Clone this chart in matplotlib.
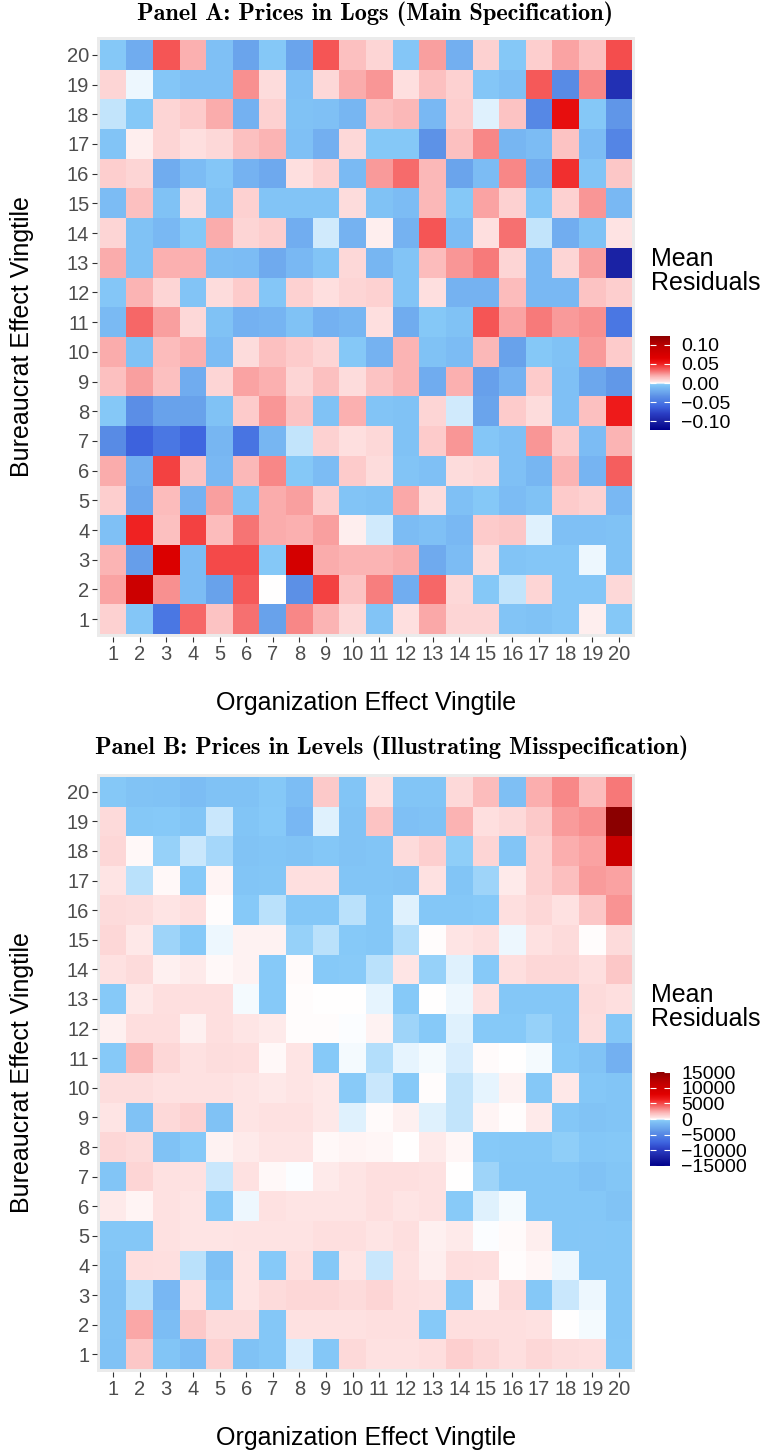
import os
import numpy as np
import matplotlib
matplotlib.use('Agg')
import matplotlib.pyplot as plt
from matplotlib.colors import LinearSegmentedColormap, Normalize
from matplotlib.font_manager import FontProperties
from matplotlib.ticker import FuncFormatter

plt.rcParams['font.family'] = ['Liberation Sans', 'DejaVu Sans']

vingtiles = list(range(1, 21))

# Panel A: mean residuals, prices in logs. Rows from vingtile 20 (top) to 1.
logs_rows = [
    [-0.005, -0.020, 0.038, 0.018, -0.009, -0.025, -0.005, -0.025, 0.038, 0.014, 0.008, -0.006, 0.022, -0.018, 0.009, -0.005, 0.010, 0.021, 0.014, 0.040],
    [0.008, -0.0005, -0.006, -0.009, -0.009, 0.025, 0.006, -0.009, 0.007, 0.019, 0.024, 0.005, 0.014, 0.009, -0.006, -0.009, 0.037, -0.038, 0.027, -0.090],
    [-0.002, -0.005, 0.008, 0.011, 0.019, -0.017, 0.009, -0.008, -0.009, -0.014, 0.014, 0.016, -0.013, 0.010, -0.001, 0.013, -0.040, 0.058, -0.005, -0.032],
    [-0.007, 0.002, 0.008, 0.005, 0.007, 0.014, 0.017, -0.009, -0.018, 0.007, -0.005, -0.005, -0.034, 0.014, 0.027, -0.014, -0.011, 0.013, -0.011, -0.042],
    [0.010, 0.008, -0.020, -0.011, -0.006, -0.016, -0.022, 0.005, 0.009, -0.012, 0.023, 0.033, 0.016, -0.025, -0.011, 0.027, -0.020, 0.047, -0.007, 0.012],
    [-0.011, 0.014, -0.008, 0.006, -0.008, 0.009, -0.007, -0.007, -0.007, 0.006, -0.008, -0.011, 0.016, -0.005, 0.021, 0.009, -0.006, 0.009, 0.024, -0.013],
    [0.008, -0.008, -0.013, -0.005, 0.019, 0.008, 0.010, -0.019, -0.0015, -0.016, 0.002, -0.016, 0.038, -0.011, 0.005, 0.032, -0.002, -0.019, -0.008, 0.004],
    [0.019, -0.008, 0.018, 0.018, -0.010, -0.011, -0.021, -0.013, -0.007, 0.007, -0.014, -0.007, 0.015, 0.024, 0.030, 0.008, -0.013, 0.008, 0.022, -0.100],
    [-0.006, 0.017, 0.008, -0.007, 0.006, 0.011, -0.006, 0.009, 0.005, 0.008, 0.009, -0.007, 0.005, -0.016, -0.016, 0.015, -0.013, -0.013, 0.013, 0.010],
    [-0.012, 0.034, 0.022, 0.007, -0.008, -0.017, -0.015, -0.008, -0.017, -0.014, 0.005, -0.020, -0.005, -0.008, 0.038, 0.021, 0.030, 0.023, 0.025, -0.050],
    [0.019, -0.008, 0.015, 0.018, -0.011, 0.006, 0.014, 0.011, 0.008, -0.005, -0.016, 0.017, -0.008, -0.011, 0.016, -0.026, -0.005, -0.008, 0.023, 0.011],
    [0.014, 0.022, 0.014, -0.020, 0.008, 0.021, 0.018, 0.008, 0.014, 0.006, 0.013, 0.017, -0.020, 0.018, -0.027, -0.016, 0.011, -0.009, -0.023, -0.031],
    [-0.005, -0.036, -0.026, -0.026, -0.008, 0.011, 0.024, 0.013, -0.008, 0.018, -0.007, -0.008, 0.008, -0.0015, -0.025, 0.011, 0.006, -0.009, 0.014, 0.052],
    [-0.038, -0.062, -0.050, -0.060, -0.014, -0.052, -0.014, -0.002, 0.009, 0.005, 0.007, -0.008, 0.011, 0.024, -0.006, -0.009, 0.024, 0.011, -0.011, 0.017],
    [0.019, -0.018, 0.043, 0.013, -0.013, 0.016, 0.027, -0.005, -0.011, 0.011, 0.006, -0.007, -0.009, 0.006, 0.007, -0.009, -0.014, 0.017, -0.015, 0.036],
    [0.010, -0.022, 0.015, -0.016, 0.022, -0.008, 0.019, 0.022, 0.010, -0.007, -0.008, 0.020, 0.006, -0.009, -0.005, -0.011, -0.008, 0.011, 0.009, -0.013],
    [-0.009, 0.050, 0.014, 0.043, 0.015, 0.031, 0.019, 0.018, 0.022, 0.002, -0.0015, -0.011, -0.009, -0.013, 0.011, 0.012, -0.001, -0.009, -0.009, -0.008],
    [0.017, -0.028, 0.070, -0.011, 0.041, 0.041, -0.005, 0.077, 0.019, 0.017, 0.017, 0.019, -0.021, -0.011, 0.006, -0.007, -0.006, -0.006, -0.0007, -0.008],
    [0.021, 0.085, 0.025, -0.011, -0.026, 0.037, 0.000, -0.035, 0.043, 0.013, 0.029, -0.019, 0.034, 0.007, -0.005, -0.002, 0.008, -0.006, -0.006, 0.007],
    [0.009, -0.006, -0.050, 0.034, 0.013, 0.032, -0.026, 0.027, 0.017, 0.007, -0.007, 0.005, 0.020, 0.008, 0.008, -0.007, -0.008, -0.006, 0.002, -0.005],
]

# Panel B: mean residuals, prices in levels. Rows from vingtile 20 (top) to 1.
levels_rows = [
    [-620, -900, -1000, -1300, -1000, -1000, -620, -1300, 1400, -800, 550, -800, -800, 850, 1850, -1150, 2250, 3300, 1850, 3700],
    [800, -600, -550, -800, -230, -800, -550, -1650, -145, -900, 1600, -1100, -950, 2100, 600, 850, 1400, 2800, 3100, 15100],
    [900, 100, -435, -210, -370, -900, -800, -900, -700, -900, -800, 750, 1200, -450, 1000, -800, 1150, 2250, 2600, 10600],
    [450, -270, 100, -550, 170, -800, -750, 600, 600, -800, -800, -900, 550, -800, -400, 300, 1100, 1750, 2800, 2600],
    [750, 700, 450, 600, 50, -550, -270, -700, -700, -270, -700, -145, -700, -700, -550, 600, 900, 550, 1450, 3000],
    [900, 350, -400, -550, -70, 200, 200, -430, -270, -550, -700, -320, 50, 450, 600, -80, 550, 750, 40, 750],
    [550, 750, 230, 300, 100, 200, -550, 80, -550, -500, -290, 400, -430, -145, -550, 600, 900, 900, 600, 1450],
    [-550, 350, 600, 600, 600, -40, -550, 40, 10, 10, -100, -550, 0, -70, 550, -700, -700, -700, 750, 600],
    [230, 650, 650, 230, 600, 400, 300, 40, 40, -20, 200, -400, -550, -130, -550, -550, -430, -650, 700, -700],
    [-550, 1900, 900, 550, 700, 650, 100, 450, -550, -30, -310, -90, -50, -170, 80, 0, -40, -550, -900, -2100],
    [700, 700, 550, 550, 550, 450, 350, 450, 350, -480, -230, -550, 40, -260, -110, 200, -600, 350, -700, -800],
    [450, -1000, 850, 1150, -1000, 450, 550, 550, 350, -145, 70, 230, -145, -240, 170, 40, 300, -700, -900, -800],
    [900, 750, -1000, -550, 200, 300, 450, 450, 100, 170, 130, 0, 300, 130, -550, -600, -600, -470, -700, -600],
    [-800, 1000, 550, 550, -230, 550, 100, -20, 300, 450, 600, 600, 550, 0, -400, -700, -700, -700, -1000, -750],
    [300, 170, 550, 450, -550, -80, 550, 450, 450, 450, 600, 450, 550, -500, -130, -30, -700, -700, -700, -900],
    [-700, -700, 550, 450, 450, 500, 500, 500, 600, 600, 450, 600, 230, 300, -20, 60, 260, -700, -650, -700],
    [-800, 650, 600, -290, -1050, 450, -550, 600, -600, 450, -210, 550, 260, 650, 600, 40, 130, -60, -700, -700],
    [-1000, -320, -1650, 600, -700, 450, 750, 900, 900, 750, 1000, 600, 550, -600, 200, 750, -600, -210, -80, -700],
    [-900, 2500, -1300, 1400, 750, 750, -700, 550, 550, 550, 600, 600, -550, 600, 600, 600, 550, 0, -30, -700],
    [-1000, 1450, -800, -1300, 1150, -1000, -700, -170, -700, 850, 550, 550, 650, 1200, 900, 600, 900, 700, 600, -600],
]

logs_limit = 0.123
levels_limit = 15100
logs_ticks = [-0.10, -0.05, 0.00, 0.05, 0.10]
levels_ticks = [-15000, -10000, -5000, 0, 5000, 10000, 15000]

# colour ramp: value on panel A's scale -> colour
ramp = [
    (-0.123, '#00008B'), (-0.100, '#1A22A4'), (-0.080, '#2A3EC4'), (-0.060, '#3F66E0'),
    (-0.045, '#5080E4'), (-0.035, '#5C90E6'), (-0.025, '#6AA4EC'), (-0.015, '#76B4F2'),
    (-0.008, '#80C2F5'), (-0.004, '#87CAF8'), (0.000, '#FFFFFF'), (0.003, '#FEE6E6'),
    (0.008, '#FDD5D5'), (0.014, '#FCC0C0'), (0.020, '#FAA8A8'), (0.026, '#F88C8C'),
    (0.032, '#F67070'), (0.038, '#F55555'), (0.045, '#F23838'), (0.052, '#EE1A1A'),
    (0.065, '#E00000'), (0.085, '#CC0000'), (0.100, '#B80000'), (0.123, '#8B0000'),
]
cmap = LinearSegmentedColormap.from_list(
    'resid', [((v / 0.123 + 1) / 2, c) for v, c in ramp], N=1024)

title_font = FontProperties(
    fname=os.path.join(matplotlib.get_data_path(), 'fonts', 'ttf', 'cmb10.ttf'), size=17.5)

W, H = 766, 1455
fig = plt.figure(figsize=(W / 100, H / 100), dpi=100)


def fx(px):
    return px / W


def fy(px):
    return 1 - px / H


def panel(rows, limit, ticks, fmt, top, bottom, cb_top, title, title_x, title_y):
    z = np.array(rows)[::-1]
    ax = fig.add_axes([fx(97), fy(bottom), fx(635) - fx(97), fy(top) - fy(bottom)])
    ax.set_facecolor('#EBEBEB')
    edges = np.arange(0.5, 21.5, 1)
    norm = Normalize(-limit, limit)
    mesh = ax.pcolormesh(edges, edges, z, cmap=cmap, norm=norm, linewidth=0)
    ax.set_xlim(0.4, 20.6)
    ax.set_ylim(0.4, 20.6)
    ax.set_xticks(vingtiles)
    ax.set_yticks(vingtiles)
    ax.tick_params(length=3.5, width=0.8, color='#333333', labelcolor='#4D4D4D',
                   labelsize=14.5, pad=2)
    for s in ax.spines.values():
        s.set_visible(False)

    mid = (top + bottom) / 2
    fig.text(fx(22), fy(mid), 'Bureaucrat Effect Vingtile', rotation=90,
             ha='center', va='center', fontsize=18)
    fig.text(fx(366), fy(bottom + 66), 'Organization Effect Vingtile',
             ha='center', va='center', fontsize=18)
    fig.text(fx(title_x), fy(title_y), title, ha='center', va='center',
             fontproperties=title_font)

    # legend
    cax = fig.add_axes([fx(650), fy(cb_top + 94), fx(670) - fx(650), 94 / H])
    cb = fig.colorbar(mesh, cax=cax, ticks=ticks)
    cb.outline.set_visible(False)
    cax.tick_params(direction='in', length=4, width=0.8, color='white',
                    left=True, right=True, labelsize=14, labelcolor='black', pad=8)
    cax.yaxis.set_major_formatter(FuncFormatter(fmt))
    fig.text(fx(651), fy(cb_top - 65), 'Mean\nResiduals', ha='left', va='center',
             fontsize=18, linespacing=1.05)
    return ax


panel(logs_rows, logs_limit, logs_ticks,
      lambda v, p: f'{v:.2f}'.replace('-', '\u2212'),
      37, 637, 336, 'Panel A: Prices in Logs (Main Specification)', 375, 14)
panel(levels_rows, levels_limit, levels_ticks,
      lambda v, p: f'{v:.0f}'.replace('-', '\u2212'),
      774, 1372, 1072, 'Panel B: Prices in Levels (Illustrating Misspecification)', 392, 748)

fig.savefig('out.png', dpi=100)
